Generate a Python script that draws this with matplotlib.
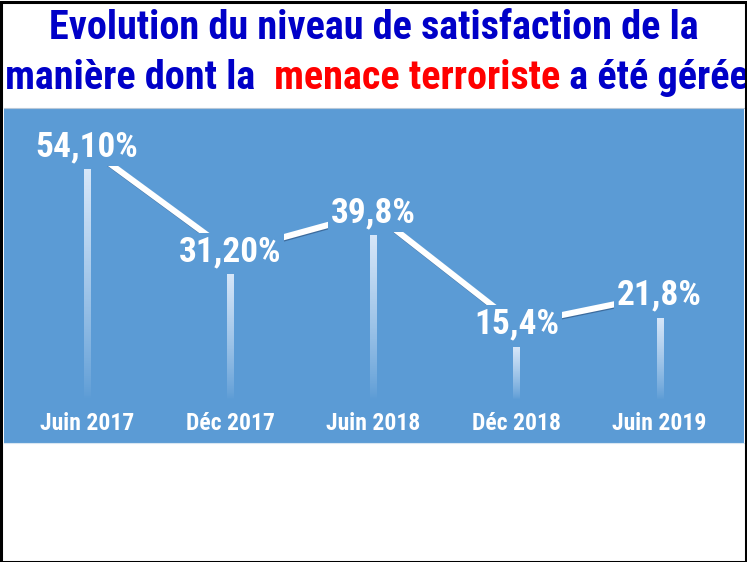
import matplotlib
matplotlib.use("Agg")
import matplotlib.pyplot as plt
import matplotlib.transforms as mtransforms
import matplotlib.patheffects as pe
from matplotlib.patches import Rectangle
import numpy as np

categories = ["Juin 2017", "Déc 2017", "Juin 2018", "Déc 2018", "Juin 2019"]
values = [54.1, 31.2, 39.8, 15.4, 21.8]
value_labels = ["54,10%", "31,20%", "39,8%", "15,4%", "21,8%"]

BLUE_BG = "#5B9BD5"
TITLE_BLUE = "#0000C8"
RED = "#FF0000"
FONT = ["Roboto Condensed", "Liberation Sans Narrow", "DejaVu Sans"]
TXT = dict(family=FONT, fontstretch="condensed", fontweight="bold")

fig = plt.figure(figsize=(7.47, 5.62), dpi=100)
fig.patch.set_facecolor("white")
ax = fig.add_axes([4 / 747, 1 - 443 / 562, 740 / 747, 335 / 562])
ax.set_facecolor(BLUE_BG)
for s in ax.spines.values():
    s.set_visible(False)
ax.spines["top"].set_visible(True)
ax.spines["top"].set_color("#b8c8d8")
ax.spines["bottom"].set_visible(True)
ax.spines["bottom"].set_color("#d8e6f2")
ax.set_xticks([])
ax.set_yticks([])

x = np.arange(len(values))

# gradient bars
w = 0.042
for xi, v in zip(x, values):
    n = 200
    ys = np.linspace(0, v, n)
    a = np.clip((ys - 4) / (v - 4), 0, 1) ** 0.8 * 0.85
    img = np.ones((n, 1, 4))
    img[:, 0, :3] = [0.93, 0.96, 1.0]
    img[:, 0, 3] = a
    ax.imshow(img, extent=[xi - w / 2, xi + w / 2, 0, v], origin="lower",
              aspect="auto", interpolation="bilinear", zorder=2)

ax.set_xlim(-0.58, 4.59)
ax.set_ylim(-5.45, 67.6)
ax.set_aspect("auto")

# line through labels (shifted above data points)
off = mtransforms.ScaledTranslation(0, 23 / 100, fig.dpi_scale_trans)
ax.plot(x, values, color="white", lw=4.4, solid_capstyle="butt", zorder=3,
        transform=ax.transData + off,
        path_effects=[pe.SimpleLineShadow(offset=(0.6, -0.8), shadow_color="#1f3d66", alpha=0.5),
                      pe.Normal()])

for xi, v, lab in zip(x, values, value_labels):
    ax.text(xi, v, lab, transform=ax.transData + off, ha="center", va="center",
            fontsize=25.5, color="white", zorder=4,
            bbox=dict(facecolor=BLUE_BG, edgecolor="none", pad=2), **TXT)

# category labels inside panel
tr = mtransforms.blended_transform_factory(ax.transData, ax.transAxes)
for xi, c in zip(x, categories):
    ax.text(xi, 19 / 335, c, transform=tr, ha="center", va="center",
            fontsize=17, color="white", **TXT)

# title
fig.text(0.5, 1 - 28 / 562, "Evolution du niveau de satisfaction de la",
         ha="center", va="center", fontsize=29, color=TITLE_BLUE, **TXT)
t1 = fig.text(5 / 747, 1 - 78 / 562, "manière dont la  ", ha="left", va="center",
              fontsize=29, color=TITLE_BLUE, **TXT)
t2 = fig.text(0, 0, "menace terroriste", fontsize=29, color=RED, **TXT)
t3 = fig.text(0, 0, " a été gérée", fontsize=29, color=TITLE_BLUE, **TXT)
fig.canvas.draw()
r = fig.canvas.get_renderer()
bb = t1.get_window_extent(r)
t2.set_position((bb.x1 / fig.bbox.width, t1.get_position()[1]))
t2.set_va("center")
bb2 = t2.get_window_extent(r)
t3.set_position((bb2.x1 / fig.bbox.width, t1.get_position()[1]))
t3.set_va("center")

# outer border
fig.patches.append(Rectangle((0.5 / 747, 0.5 / 562), 1 - 2 / 747, 1 - 2 / 562,
                             transform=fig.transFigure, fill=False,
                             edgecolor="black", lw=2.2, zorder=10))

fig.savefig("out.png", dpi=100)
